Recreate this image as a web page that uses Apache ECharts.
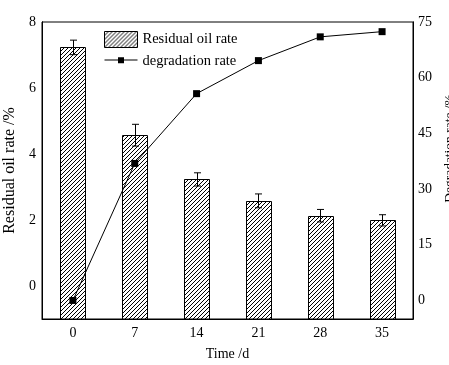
<!DOCTYPE html>
<html><head><meta charset="utf-8">
<script src="https://cdn.jsdelivr.net/npm/echarts@6/dist/echarts.min.js"></script>
<style>html,body{margin:0;padding:0;background:#fff}#c{width:449px;height:365px}</style>
</head><body><div id="c"></div>
<script>
const categories = ['0','7','14','21','28','35'];
const residualOil = [7.23, 4.57, 3.23, 2.58, 2.13, 1.99];
const residualErr = [0.22, 0.33, 0.20, 0.21, 0.19, 0.17];
const degradation = [0, 36.9, 55.7, 64.6, 71.0, 72.4];
const leftTicks = [0, 2, 4, 6, 8];
const leftMinor = [1, 3, 5, 7];
const rightTicks = [0, 15, 30, 45, 60, 75];
const rightMinor = [7.5, 22.5, 37.5, 52.5, 67.5];
const leftMin = -1, leftMax = 8, rightMin = -5, rightMax = 75;

const tile = document.createElement('canvas');
tile.width = 4; tile.height = 4;
const g = tile.getContext('2d');
g.fillStyle = '#fff'; g.fillRect(0,0,4,4);
g.strokeStyle = '#000'; g.lineWidth = 1;
g.beginPath();
g.moveTo(-1,5); g.lineTo(5,-1);
g.moveTo(-1,1); g.lineTo(1,-1);
g.moveTo(3,5); g.lineTo(5,3);
g.stroke();
const hatch = {image: tile, repeat: 'repeat'};

const font = 'Liberation Serif';
const chart = echarts.init(document.getElementById('c'));
const baseY = {
  type: 'value', nameLocation: 'middle', nameRotate: 90,
  axisLine: {show: true, onZero: false, lineStyle: {color: '#000', width: 1}},
  splitLine: {show: false},
  axisLabel: {fontFamily: font, fontSize: 14, color: '#000'},
  axisTick: {inside: true, length: 4, lineStyle: {color: '#000'}}
};
const lineIcon = 'path://M0,0H0.01V0.01H0Z M0,6.5H13.5V7.5H0Z M13.5,4.2H19.5V10.2H13.5Z M19.5,6.5H33V7.5H19.5Z M32.99,15.99H33V16H32.99Z';
chart.setOption({
  animation: false,
  grid: {left: 42, right: 36, top: 22, bottom: 46, show: true, borderColor: '#000', borderWidth: 1, outerBoundsMode: 'none', containLabel: false},
  legend: {
    orient: 'vertical', left: 99, top: 26, itemWidth: 33, itemHeight: 16, itemGap: 5,
    textStyle: {fontFamily: font, fontSize: 14.5, color: '#000'},
    data: [
      {name: 'Residual oil rate', icon: 'rect', itemStyle: {color: hatch, borderColor: '#000', borderWidth: 1}},
      {name: 'degradation rate', icon: lineIcon, itemStyle: {color: '#000', borderWidth: 0}}
    ]
  },
  xAxis: {
    type: 'category', data: categories,
    name: 'Time /d', nameLocation: 'middle', nameGap: 28,
    nameTextStyle: {fontFamily: font, fontSize: 14, color: '#000'},
    axisLine: {onZero: false, lineStyle: {color: '#000'}},
    axisTick: {inside: true, length: 3, lineStyle: {color: '#000'}},
    axisLabel: {fontFamily: font, fontSize: 14, color: '#000', margin: 7}
  },
  yAxis: [
    Object.assign({}, baseY, {
      position: 'left', min: leftMin, max: leftMax, name: 'Residual oil rate /%', nameGap: 24,
      nameTextStyle: {fontFamily: font, fontSize: 16, color: '#000'},
      axisLabel: Object.assign({}, baseY.axisLabel, {customValues: leftTicks, margin: 6}),
      axisTick: Object.assign({}, baseY.axisTick, {customValues: leftTicks})
    }),
    Object.assign({}, baseY, {
      position: 'right', min: rightMin, max: rightMax, name: 'Degradation rate /%', nameGap: 26,
      nameTextStyle: {fontFamily: font, fontSize: 13.5, color: '#000', padding: [0, 0, 0, 44]},
      axisLabel: Object.assign({}, baseY.axisLabel, {customValues: rightTicks, margin: 5}),
      axisTick: Object.assign({}, baseY.axisTick, {customValues: rightTicks})
    }),
    Object.assign({}, baseY, {
      position: 'left', min: leftMin, max: leftMax,
      axisLabel: {show: false},
      axisTick: {inside: true, length: 2, customValues: leftMinor, lineStyle: {color: '#000'}}
    }),
    Object.assign({}, baseY, {
      position: 'right', min: rightMin, max: rightMax,
      axisLabel: {show: false},
      axisTick: {inside: true, length: 2, customValues: rightMinor, lineStyle: {color: '#000'}}
    })
  ],
  series: [
    {
      name: 'Residual oil rate', type: 'custom', yAxisIndex: 0, z: 2,
      data: residualOil.map((v, i) => [i, v]),
      encode: {x: 0, y: 1},
      renderItem: function (params, api) {
        const top = api.coord([api.value(0), api.value(1)]);
        const bot = api.coord([api.value(0), leftMin]);
        const w = 25;
        return {type: 'rect',
          shape: {x: Math.round(top[0] - w / 2) + 0.5, y: Math.round(top[1]) + 0.5, width: w, height: bot[1] - Math.round(top[1]) - 0.5},
          style: {fill: hatch, stroke: '#000', lineWidth: 1}};
      }
    },
    {
      name: 'err', type: 'custom', yAxisIndex: 0, z: 3,
      data: residualOil.map((v, i) => [i, v - residualErr[i], v + residualErr[i]]),
      encode: {x: 0, y: [1, 2]},
      renderItem: function (params, api) {
        const lo = api.coord([api.value(0), api.value(1)]);
        const hi = api.coord([api.value(0), api.value(2)]);
        const w = 3.5;
        const x = Math.round(lo[0]) + 0.5;
        const st = {stroke: '#000', lineWidth: 1};
        return {type: 'group', children: [
          {type: 'line', shape: {x1: x, y1: lo[1], x2: x, y2: hi[1]}, style: st},
          {type: 'line', shape: {x1: x - w, y1: hi[1], x2: x + w, y2: hi[1]}, style: st},
          {type: 'line', shape: {x1: x - w, y1: lo[1], x2: x + w, y2: lo[1]}, style: st}
        ]};
      }
    },
    {
      name: 'degradation rate', type: 'line', yAxisIndex: 1, data: degradation,
      symbol: 'rect', symbolSize: 7, z: 4,
      lineStyle: {color: '#000', width: 1},
      itemStyle: {color: '#000'}
    }
  ]
});
</script></body></html>
